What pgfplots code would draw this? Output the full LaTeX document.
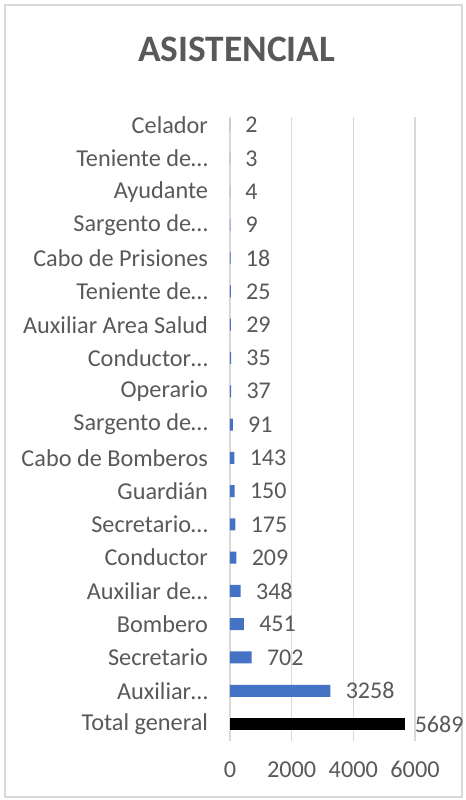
\documentclass[border=0pt]{standalone}
\usepackage{pgfplots}
\pgfplotsset{compat=1.18}
\usepackage{fontspec}
\setmainfont{Carlito}
\definecolor{txt}{HTML}{595959}
\definecolor{barblue}{HTML}{4472C4}
\definecolor{gridc}{HTML}{D9D9D9}
\begin{document}
\begin{tikzpicture}
\useasboundingbox (0pt,0pt) rectangle (349.5pt,600pt);
\draw[gridc, line width=0.9pt] (3.75pt,2.25pt) rectangle (346.5pt,596.25pt);
\node[txt, font=\bfseries\fontsize{28}{32}\selectfont] at (177.5pt,563pt) {ASISTENCIAL};
\begin{axis}[
  at={(172.5pt,44.5pt)}, anchor=south west,
  width=138.75pt, height=467.7pt, scale only axis,
  xmin=0, xmax=6000, ymin=-0.24, ymax=18.5, y dir=reverse,
  xbar, bar width=9pt,
  axis line style={draw=none}, major tick length=0pt,
  xmajorgrids, grid style={gridc, line width=0.9pt},
  xtick={0,2000,4000,6000},
  ytick={0,...,18},
  yticklabels={Celador,Teniente de…,Ayudante,Sargento de…,Cabo de Prisiones,Teniente de…,Auxiliar Area Salud,Conductor…,Operario,Sargento de…,Cabo de Bomberos,Guardián,Secretario…,Conductor,Auxiliar de…,Bombero,Secretario,Auxiliar…,Total general},
  /pgf/number format/assume math mode=true,
  /pgf/number format/1000 sep={},
  ticklabel style={font=\fontsize{18.2}{21}\selectfont, text=txt},
  yticklabel style={xshift=-13pt},
  xticklabel style={yshift=-12pt},
  nodes near coords, point meta=x,
  every node near coord/.append style={anchor=west, font=\fontsize{18}{21}\selectfont, text=txt, xshift=8pt},
]
\addplot[fill=barblue, draw=none, bar shift=0pt] coordinates {
(2,0) (3,1) (4,2) (9,3) (18,4) (25,5) (29,6) (35,7) (37,8) (91,9) (143,10) (150,11) (175,12) (209,13) (348,14) (451,15) (702,16) (3258,17)};
\addplot[fill=black, draw=none, bar shift=0pt, every node near coord/.append style={xshift=-4.5pt}] coordinates {(5689,18)};
\end{axis}
\end{tikzpicture}
\end{document}
